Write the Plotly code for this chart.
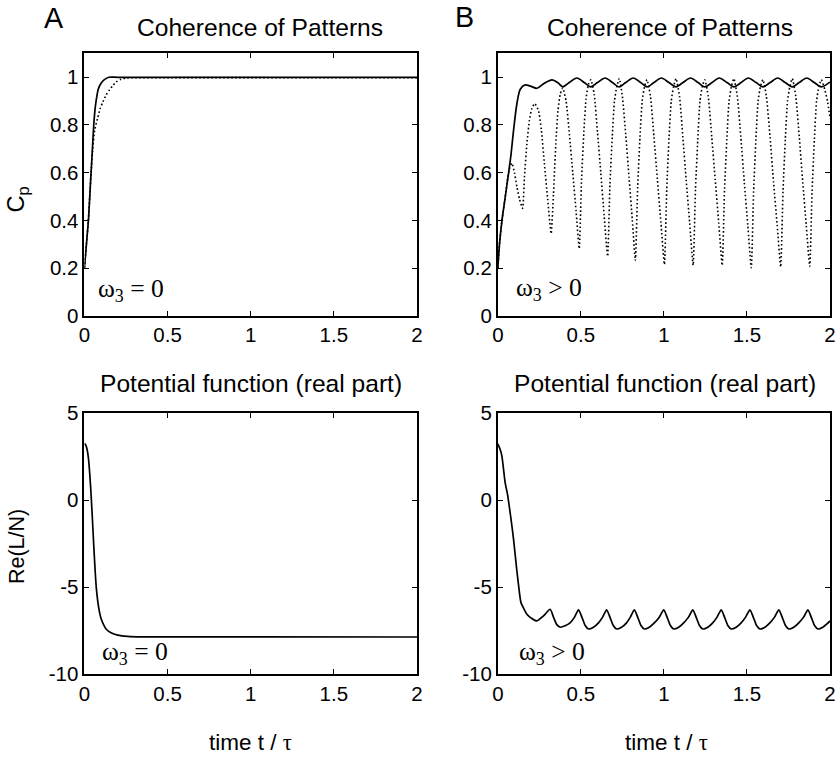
import plotly.graph_objects as go

# ---------------- data ----------------
# Panel A, top: coherence of patterns, omega3 = 0
tA_solid = [0, 0.006, 0.012, 0.018, 0.024, 0.032, 0.040, 0.048, 0.056, 0.063, 0.070, 0.083, 0.100, 0.120, 0.147, 0.2, 2.0]
cA_solid = [0.2, 0.25, 0.3, 0.35, 0.4, 0.5, 0.6, 0.7, 0.8, 0.86, 0.9, 0.95, 0.975, 0.99, 1.0, 1.0, 1.0]
tA_dot = [0, 0.012, 0.024, 0.032, 0.040, 0.050, 0.062, 0.080, 0.095, 0.110, 0.130, 0.150, 0.170, 0.190, 0.220, 0.250, 0.300, 2.0]
cA_dot = [0.2, 0.3, 0.4, 0.5, 0.6, 0.7, 0.78, 0.83, 0.87, 0.895, 0.925, 0.947, 0.965, 0.98, 0.992, 0.997, 0.998, 0.998]

# Panel B, top: coherence of patterns, omega3 > 0
tB_solid = [0, 0.01, 0.025, 0.045, 0.065, 0.08, 0.095, 0.115, 0.135, 0.165,
            0.2, 0.235, 0.28, 0.326,
            0.36, 0.391, 0.43, 0.476, 0.52, 0.56, 0.6, 0.646, 0.69, 0.731, 0.77, 0.815,
            0.86, 0.898, 0.94, 0.985, 1.03, 1.073, 1.115, 1.16, 1.205, 1.246, 1.29, 1.333,
            1.38, 1.421, 1.465, 1.508, 1.555, 1.596, 1.64, 1.685, 1.73, 1.773, 1.815, 1.86,
            1.905, 1.948, 2.0]
cB_solid = [0.2, 0.3, 0.4, 0.5, 0.6, 0.68, 0.78, 0.89, 0.95, 0.968,
            0.962, 0.954, 0.975, 0.989,
            0.978, 0.96, 0.978, 0.997, 0.978, 0.96, 0.978, 0.997, 0.978, 0.96, 0.978, 0.997,
            0.978, 0.96, 0.978, 0.997, 0.978, 0.96, 0.978, 0.997, 0.978, 0.96, 0.978, 0.997,
            0.978, 0.96, 0.978, 0.997, 0.978, 0.96, 0.978, 0.997, 0.978, 0.96, 0.978, 0.997,
            0.978, 0.96, 0.98]
tB_dot = [0, 0.01, 0.025, 0.045, 0.06, 0.072, 0.085, 0.1, 0.115, 0.13, 0.149,
          0.16, 0.175, 0.19, 0.205, 0.222, 0.245, 0.262, 0.28, 0.3, 0.321,
          0.335, 0.349, 0.362, 0.376, 0.391, 0.411, 0.431, 0.451, 0.471, 0.49,
          0.504, 0.518, 0.531, 0.545, 0.56, 0.58, 0.6, 0.62, 0.64, 0.661,
          0.675, 0.689, 0.702, 0.716, 0.731, 0.75, 0.77, 0.79, 0.81, 0.828,
          0.842, 0.856, 0.869, 0.883, 0.898, 0.919, 0.94, 0.961, 0.982, 1.003,
          1.017, 1.031, 1.044, 1.058, 1.073, 1.094, 1.114, 1.134, 1.155, 1.176,
          1.19, 1.204, 1.217, 1.231, 1.246, 1.267, 1.288, 1.309, 1.33, 1.351,
          1.365, 1.379, 1.392, 1.406, 1.421, 1.442, 1.463, 1.484, 1.505, 1.526,
          1.54, 1.554, 1.567, 1.581, 1.596, 1.617, 1.639, 1.66, 1.682, 1.703,
          1.717, 1.731, 1.744, 1.758, 1.773, 1.794, 1.815, 1.836, 1.857, 1.878,
          1.892, 1.906, 1.919, 1.933, 1.948, 1.968, 1.985, 2.0]
cB_dot = [0.2, 0.3, 0.4, 0.5, 0.58, 0.62, 0.64, 0.6, 0.54, 0.49, 0.45,
          0.58, 0.72, 0.82, 0.87, 0.89, 0.86, 0.78, 0.64, 0.49, 0.344,
          0.51, 0.72, 0.86, 0.93, 0.955, 0.9, 0.76, 0.6, 0.44, 0.281,
          0.57, 0.77, 0.91, 0.97, 0.99, 0.93, 0.77, 0.6, 0.42, 0.249,
          0.55, 0.75, 0.9, 0.96, 0.995, 0.92, 0.76, 0.58, 0.4, 0.232,
          0.54, 0.75, 0.9, 0.96, 0.99, 0.92, 0.75, 0.57, 0.39, 0.215,
          0.53, 0.75, 0.9, 0.96, 0.995, 0.92, 0.75, 0.57, 0.39, 0.211,
          0.53, 0.74, 0.9, 0.96, 0.99, 0.92, 0.75, 0.57, 0.39, 0.211,
          0.53, 0.74, 0.9, 0.96, 0.995, 0.92, 0.75, 0.56, 0.38, 0.201,
          0.52, 0.74, 0.9, 0.96, 0.99, 0.92, 0.75, 0.56, 0.38, 0.204,
          0.52, 0.74, 0.9, 0.96, 0.995, 0.92, 0.75, 0.56, 0.38, 0.207,
          0.52, 0.74, 0.9, 0.96, 0.99, 0.95, 0.9, 0.83]

# Panel A, bottom: potential function (real part), omega3 = 0
tC = [0, 0.008, 0.016, 0.024, 0.032, 0.04, 0.048, 0.056, 0.064, 0.072, 0.08, 0.09, 0.1,
      0.115, 0.13, 0.16, 0.2, 0.26, 0.35, 2.0]
LC = [3.25, 3.15, 2.9, 2.4, 1.5, 0.3, -1.1, -2.6, -4.0, -5.1, -5.8, -6.4, -6.8,
      -7.15, -7.4, -7.62, -7.75, -7.82, -7.85, -7.86]

# Panel B, bottom: potential function (real part), omega3 > 0
tD = [0, 0.012, 0.024, 0.044, 0.058, 0.078, 0.094, 0.104, 0.114, 0.124, 0.139, 0.155, 0.175, 0.205, 0.235, 0.275, 0.315,
      0.335, 0.355, 0.376, 0.405, 0.435, 0.46, 0.486,
      0.506, 0.526, 0.546, 0.576, 0.606, 0.631, 0.655,
      0.675, 0.695, 0.715, 0.745, 0.775, 0.798, 0.822,
      0.842, 0.862, 0.882, 0.912, 0.942, 0.972, 0.999,
      1.019, 1.039, 1.059, 1.089, 1.119, 1.148, 1.174,
      1.194, 1.214, 1.234, 1.264, 1.294, 1.32, 1.345,
      1.365, 1.385, 1.405, 1.435, 1.465, 1.492, 1.518,
      1.538, 1.558, 1.578, 1.608, 1.638, 1.666, 1.692,
      1.712, 1.732, 1.752, 1.782, 1.812, 1.841, 1.867,
      1.887, 1.907, 1.927, 1.957, 1.98, 2.0]
LD = [3.22, 2.95, 2.55, 1.0, 0.34, -1.0, -2.2, -3.1, -4.0, -4.83, -5.88, -6.2, -6.55, -6.8, -6.94, -6.65, -6.27,
      -6.72, -7.15, -7.3, -7.22, -7.05, -6.75, -6.3,
      -6.72, -7.2, -7.4, -7.3, -7.05, -6.72, -6.3,
      -6.72, -7.2, -7.4, -7.3, -7.05, -6.72, -6.3,
      -6.72, -7.2, -7.4, -7.3, -7.05, -6.72, -6.3,
      -6.72, -7.2, -7.4, -7.3, -7.05, -6.72, -6.3,
      -6.72, -7.2, -7.4, -7.3, -7.05, -6.72, -6.3,
      -6.72, -7.2, -7.4, -7.3, -7.05, -6.72, -6.3,
      -6.72, -7.2, -7.4, -7.3, -7.05, -6.72, -6.3,
      -6.72, -7.2, -7.4, -7.3, -7.05, -6.72, -6.3,
      -6.72, -7.2, -7.4, -7.3, -7.12, -6.94]

# tick labels
x_ticks = [0, 0.5, 1, 1.5, 2]
x_ticklabels = ["0", "0.5", "1", "1.5", "2"]
cp_ticks = [0, 0.2, 0.4, 0.6, 0.8, 1]
cp_ticklabels = ["0", "0.2", "0.4", "0.6", "0.8", "1"]
re_ticks = [-10, -5, 0, 5]
re_ticklabels = ["-10", "-5", "0", "5"]

# ---------------- layout helpers ----------------
W, H = 837, 757
# the captured page appears slightly shrunk about its centre; pre-compensate
CX, CY = 418.5, 378.5
SX, SY = 0.984, 0.968
FS = 1.0 / ((SX + SY) / 2)


def px(x):
    return (CX + (x - CX) / SX) / W


def py(y):
    return 1 - (CY + (y - CY) / SY) / H


def fs(size):
    return round(size * FS, 1)


SANS = "Liberation Sans, Arial, Helvetica, sans-serif"
SERIF = "Liberation Serif, Times New Roman, serif"

fig = go.Figure()

solid = dict(color="black", width=1.7)
dotted = dict(color="black", width=1.6, dash="1.6px,2.4px")

fig.add_trace(go.Scatter(x=tA_solid, y=cA_solid, mode="lines", line=dict(**solid, shape="spline", smoothing=0.6),
                         xaxis="x", yaxis="y"))
fig.add_trace(go.Scatter(x=tA_dot, y=cA_dot, mode="lines", line=dict(**dotted, shape="spline", smoothing=0.6),
                         xaxis="x", yaxis="y"))
fig.add_trace(go.Scatter(x=tB_solid, y=cB_solid, mode="lines", line=dict(**solid, shape="spline", smoothing=0.8),
                         xaxis="x2", yaxis="y2"))
fig.add_trace(go.Scatter(x=tB_dot, y=cB_dot, mode="lines", line=dict(**dotted, shape="spline", smoothing=0.5),
                         xaxis="x2", yaxis="y2"))
fig.add_trace(go.Scatter(x=tC, y=LC, mode="lines", line=dict(**solid, shape="spline", smoothing=0.6),
                         xaxis="x3", yaxis="y3"))
fig.add_trace(go.Scatter(x=tD, y=LD, mode="lines", line=dict(**solid, shape="spline", smoothing=0.6),
                         xaxis="x4", yaxis="y4"))

axis_common = dict(showline=True, linecolor="black", linewidth=1.8, mirror="ticks",
                   ticks="inside", ticklen=5, tickwidth=1.2, tickcolor="black",
                   showgrid=False, zeroline=False,
                   tickfont=dict(family=SANS, size=fs(20), color="black"))

xL = [px(85), px(417)]
xR = [px(497.7), px(829.3)]
yT = [py(315.3), py(53.5)]
yB = [py(673.3), py(412.3)]

fig.update_layout(
    width=W, height=H,
    margin=dict(l=0, r=0, t=0, b=0),
    paper_bgcolor="white", plot_bgcolor="white",
    showlegend=False,
    xaxis=dict(domain=xL, anchor="y", range=[0, 2], tickvals=x_ticks, ticktext=x_ticklabels, **axis_common),
    yaxis=dict(domain=yT, anchor="x", range=[0, 1.1], tickvals=cp_ticks, ticktext=cp_ticklabels, **axis_common),
    xaxis2=dict(domain=xR, anchor="y2", range=[0, 2], tickvals=x_ticks, ticktext=x_ticklabels, **axis_common),
    yaxis2=dict(domain=yT, anchor="x2", range=[0, 1.1], tickvals=cp_ticks, ticktext=cp_ticklabels, **axis_common),
    xaxis3=dict(domain=xL, anchor="y3", range=[0, 2], tickvals=x_ticks, ticktext=x_ticklabels, **axis_common),
    yaxis3=dict(domain=yB, anchor="x3", range=[-10, 5], tickvals=re_ticks, ticktext=re_ticklabels, **axis_common),
    xaxis4=dict(domain=xR, anchor="y4", range=[0, 2], tickvals=x_ticks, ticktext=x_ticklabels, **axis_common),
    yaxis4=dict(domain=yB, anchor="x4", range=[-10, 5], tickvals=re_ticks, ticktext=re_ticklabels, **axis_common),
)

ann = []


def add_text(text, x, y, size, family=SANS, xanchor="center", angle=0):
    ann.append(dict(text=text, x=px(x), y=py(y), xref="paper", yref="paper", showarrow=False,
                    xanchor=xanchor, yanchor="middle", textangle=angle,
                    font=dict(family=family, size=fs(size), color="black")))


add_text("A", 55, 18, 28)
add_text("B", 464, 17, 28)
add_text("Coherence of Patterns", 260, 28, 24)
add_text("Coherence of Patterns", 670, 28, 24)
add_text("Potential function (real part)", 251, 383, 24)
add_text("Potential function (real part)", 665, 383, 24)
add_text("time t / <span style='font-family:Liberation Serif'>τ</span>", 251, 741, 22)
add_text("time t / <span style='font-family:Liberation Serif'>τ</span>", 666, 741, 22)
add_text("C<sub>p</sub>", 19, 199, 23, angle=-90)
add_text("Re(L/N)", 17, 546, 21, angle=-90)
add_text("ω<sub>3</sub> = 0", 97, 290, 25, family=SERIF, xanchor="left")
add_text("ω<sub>3</sub> = 0", 101, 652, 25, family=SERIF, xanchor="left")
add_text("ω<sub>3</sub> > 0", 514, 289, 25, family=SERIF, xanchor="left")
add_text("ω<sub>3</sub> > 0", 517, 652, 25, family=SERIF, xanchor="left")

fig.update_layout(annotations=ann)

fig.write_html(
    "out.html",
    config={"displayModeBar": False},
    post_script="document.body.style.margin='0';document.body.style.padding='0';"
                "document.documentElement.style.overflow='hidden';",
)
